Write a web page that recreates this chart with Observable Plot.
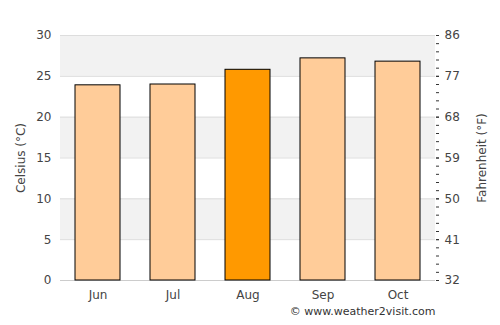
<!DOCTYPE html>
<html><head><meta charset="utf-8">
<script src="https://cdn.jsdelivr.net/npm/d3@7"></script>
<script src="https://cdn.jsdelivr.net/npm/@observablehq/plot@0.6"></script>
<style>body{margin:0;background:#fff;font-family:"DejaVu Sans",sans-serif}</style>
</head><body><div id="chart"></div>
<script>
const months = ["Jun","Jul","Aug","Sep","Oct"];
const celsius = [23.9, 24.0, 25.8, 27.2, 26.8];
const highlight = ["Aug"];
const bandLow = [25, 15, 5];
const bandHigh = [30, 20, 10];
const cTicks = [0,5,10,15,20,25,30];
const minorTicks = d3.range(0,31,1);

const data = months.map((m,i)=>({month:m, c:celsius[i], hi: highlight.includes(m)}));
const bands = bandLow.map((l,i)=>({y1:l,y2:bandHigh[i]}));

const chart = Plot.plot({
  width: 500, height: 325,
  marginLeft: 60, marginRight: 65, marginTop: 35, marginBottom: 45,
  style: {fontFamily: "DejaVu Sans, sans-serif", fontSize: "12px", color: "#444"},
  x: {domain: months, paddingInner: 0.4, paddingOuter: 0.2, label: null},
  y: {domain: [0,30], label: null},
  marks: [
    Plot.rect(bands, {y1:"y1", y2:"y2", fill:"#f2f2f2"}),
    Plot.ruleY(cTicks.slice(1), {stroke:"#dddddd"}),
    Plot.ruleY([0], {stroke:"#cccccc"}),
    Plot.ruleX([0], {stroke:"#d5d5d5", frameAnchor:"left"}),
    Plot.ruleX([0], {stroke:"#e2e2e2", frameAnchor:"right"}),
    Plot.barY(data, {x:"month", y:"c", fill: d => d.hi ? "#ff9900" : "#ffcc99", stroke:"#000", strokeWidth:1}),
    Plot.axisX({tickSize:0, tickPadding:10, fontSize:12, label:null}),
    Plot.axisY({anchor:"left", ticks:cTicks, tickSize:0, tickPadding:9, label:"Celsius (°C)", labelAnchor:"center", labelArrow:"none", labelOffset:44, fontSize:12}),
    Plot.axisY({anchor:"right", ticks:cTicks, tickSize:3, tickPadding:6, tickFormat: d => d*9/5+32, label:"Fahrenheit (°F)", labelAnchor:"center", labelArrow:"none", labelOffset:50, fontSize:12, stroke:"#333"}),
    Plot.axisY({anchor:"right", ticks:minorTicks, tickSize:3, tickFormat: () => "", label:null, stroke:"#333"}),
    Plot.text(["© www.weather2visit.com"], {frameAnchor:"bottom-right", dy:34, textAnchor:"end", fontSize:11, fill:"#333"})
  ]
});
document.getElementById("chart").append(chart);
</script></body></html>
